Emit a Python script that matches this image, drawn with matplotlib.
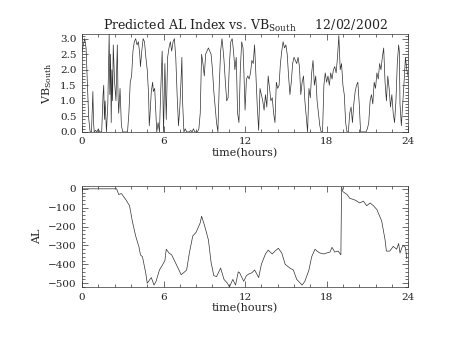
import numpy as np
import matplotlib
matplotlib.use("Agg")
import matplotlib.pyplot as plt
from matplotlib.ticker import MultipleLocator, AutoMinorLocator

plt.rcParams['font.family'] = ['DejaVu Serif']
plt.rcParams['mathtext.fontset'] = 'dejavuserif'
plt.rcParams['text.color'] = '#222222'
plt.rcParams['axes.labelcolor'] = '#222222'
plt.rcParams['xtick.labelcolor'] = '#222222'
plt.rcParams['ytick.labelcolor'] = '#222222'

# solar wind southward field (VB south), hours vs value
vb_hours = [
    0.0, 0.1, 0.2, 0.3, 0.4, 0.5, 0.6, 0.7, 0.8, 0.85, 0.9, 1.0,
    1.1, 1.2, 1.3, 1.45, 1.55, 1.6, 1.65, 1.7, 1.8, 1.9, 2.0, 2.05,
    2.1, 2.15, 2.2, 2.25, 2.3, 2.4, 2.5, 2.55, 2.6, 2.65, 2.7, 2.8, 2.9, 3.0,
    3.1, 3.2, 3.35, 3.45, 3.55, 3.65, 3.75, 3.85, 3.95, 4.05, 4.15,
    4.25, 4.3, 4.4, 4.5, 4.6, 4.7, 4.8, 4.9, 4.95, 5.0,
    5.1, 5.2, 5.25, 5.35, 5.45, 5.5, 5.6, 5.7, 5.8, 5.9, 6.0,
    6.1, 6.2, 6.3, 6.4, 6.5, 6.6, 6.7, 6.8, 6.9, 7.0,
    7.1, 7.2, 7.3, 7.35, 7.4, 7.5, 7.6, 7.7, 7.9, 8.0,
    8.1, 8.2, 8.3, 8.5, 8.6, 8.7, 8.8, 8.9, 9.0,
    9.1, 9.2, 9.3, 9.4, 9.5, 9.6, 9.7, 9.8, 9.9, 10.0,
    10.1, 10.2, 10.3, 10.35, 10.45, 10.55, 10.65, 10.75, 10.85, 10.95, 11.05,
    11.15, 11.25, 11.35, 11.45, 11.55, 11.65, 11.75, 11.85, 11.9, 12.0,
    12.1, 12.2, 12.3, 12.4, 12.5, 12.6, 12.7, 12.8, 12.9, 13.0,
    13.1, 13.2, 13.3, 13.4, 13.5, 13.6, 13.7, 13.8, 13.9, 14.0,
    14.1, 14.2, 14.3, 14.4, 14.5, 14.6, 14.7, 14.8, 14.9, 15.0, 15.1,
    15.2, 15.3, 15.4, 15.5, 15.6, 15.7, 15.8, 15.9, 16.0,
    16.1, 16.2, 16.3, 16.4, 16.5, 16.6, 16.7, 16.8, 16.9, 17.0, 17.1,
    17.2, 17.3, 17.4, 17.5, 17.6, 17.7, 17.8, 17.9, 18.0,
    18.1, 18.2, 18.3, 18.4, 18.5, 18.6, 18.7, 18.8, 18.9, 19.0,
    19.1, 19.2, 19.3, 19.4, 19.5, 19.6, 19.7, 19.8, 19.9, 20.0,
    20.1, 20.2, 20.3, 20.4, 20.5, 20.6, 20.7, 20.9, 21.0,
    21.1, 21.2, 21.3, 21.4, 21.5, 21.6, 21.7, 21.8, 21.9, 22.0,
    22.1, 22.2, 22.3, 22.4, 22.5, 22.6, 22.7, 22.8, 22.9, 23.0,
    23.1, 23.2, 23.3, 23.35, 23.4, 23.5, 23.6, 23.7, 23.8, 23.9, 24.0,
]
vb_south = [
    2.6, 2.8, 3.0, 2.7, 1.5, 0.4, 0.0, 0.0, 1.3, 0.3, 0.0, 0.05,
    0.0, 0.1, 0.0, 0.0, 1.2, 1.5, 0.4, 1.0, 0.0, 0.9, 3.15, 1.2,
    2.5, 0.3, 2.0, 1.0, 2.8, 1.6, 1.0, 2.0, 2.8, 1.2, 0.6, 1.4, 0.2, 0.0,
    0.0, 0.0, 0.0, 0.6, 1.6, 1.8, 2.6, 2.9, 3.0, 2.8, 2.9,
    2.5, 2.1, 2.6, 3.0, 2.9, 2.4, 2.0, 1.2, 0.2, 0.5,
    1.3, 1.6, 1.3, 1.4, 0.5, 0.0, 0.3, 0.0, 1.4, 2.6, 0.0,
    2.2, 0.4, 2.4, 2.7, 2.9, 2.6, 2.9, 3.0, 2.4, 1.2,
    0.2, 0.8, 1.8, 2.4, 1.0, 0.0, 0.1, 0.0, 0.0, 0.05,
    0.0, 0.1, 0.0, 0.0, 0.1, 0.6, 2.5, 2.2, 1.8,
    2.5, 2.6, 2.7, 2.6, 2.5, 2.0, 1.3, 0.8, 0.3, 0.0,
    1.5, 2.6, 3.0, 2.8, 2.3, 1.6, 1.0, 1.1, 2.2, 2.9, 3.0,
    2.6, 2.0, 2.4, 0.6, 0.3, 2.0, 2.9, 2.7, 2.1, 0.7,
    1.7, 1.8, 1.7, 1.9, 2.3, 2.2, 2.8, 1.8, 0.8, 0.05,
    1.4, 1.2, 1.0, 0.7, 1.2, 0.8, 1.8, 1.4, 1.0, 1.1,
    0.6, 0.3, 1.6, 1.4, 1.5, 2.2, 2.6, 2.9, 2.7, 2.8, 2.5,
    1.8, 1.2, 1.6, 2.2, 2.4, 2.3, 2.2, 2.4, 2.1,
    1.2, 1.6, 1.8, 1.0, 0.5, 0.0, 1.4, 1.1, 1.9, 2.3, 1.5,
    1.8, 1.0, 0.6, 0.2, 0.0, 0.0, 1.5, 1.9, 1.6,
    1.8, 1.5, 1.9, 1.7, 2.0, 2.1, 1.9, 2.4, 3.1, 2.0,
    2.2, 1.5, 1.2, 0.3, 0.0, 0.0, 0.6, 0.8, 0.3, 0.9,
    1.3, 1.5, 1.6, 0.9, 0.0, 0.0, 0.0, 0.0, 0.1,
    0.3, 1.0, 1.2, 0.9, 1.6, 1.4, 1.9, 1.7, 2.2, 2.0,
    2.4, 2.7, 1.6, 1.0, 1.8, 1.4, 0.8, 1.2, 0.6, 0.3,
    1.0, 2.2, 2.8, 2.6, 0.9, 0.2, 0.9, 1.6, 2.4, 2.0, 1.8,
]

# predicted AL index
al_hours = [
    0.0, 2.55, 2.7, 2.9, 3.0, 3.25, 3.5, 3.7, 3.95, 4.2, 4.3, 4.45, 4.7, 4.8,
    5.1, 5.3, 5.45, 5.7, 5.95, 6.1, 6.2, 6.4, 6.6, 6.8, 7.0, 7.3, 7.55, 7.7,
    7.9, 8.15, 8.4, 8.7, 8.8, 9.0, 9.3, 9.5, 9.7, 9.9, 10.2, 10.45, 10.7,
    10.85, 11.1, 11.3, 11.5, 11.6, 11.9, 12.1, 12.3, 12.5, 12.7, 13.0, 13.2,
    13.5, 13.7, 14.0, 14.2, 14.45, 14.7, 14.95, 15.3, 15.55, 15.8, 16.2,
    16.4, 16.7, 16.9, 17.15, 17.3, 17.5, 17.8, 18.0, 18.25, 18.4, 18.6,
    18.85, 19.05, 19.1, 19.2, 19.5, 19.7, 20.1, 20.45, 20.7, 20.95, 21.2,
    21.45, 21.7, 22.05, 22.3, 22.4, 22.65, 22.9, 23.15, 23.3, 23.4, 23.6,
    23.8, 23.9,
]
al_index = [
    0, 0, -30, -25, -35, -60, -90, -170, -250, -310, -350, -360, -450, -500,
    -470, -510, -490, -430, -400, -380, -320, -340, -350, -380, -410, -455,
    -440, -430, -340, -250, -230, -180, -145, -190, -270, -390, -460, -465,
    -420, -480, -500, -520, -480, -510, -440, -445, -490, -460, -450, -445,
    -430, -470, -400, -345, -325, -345, -330, -315, -340, -400, -420, -430,
    -480, -510, -490, -430, -360, -320, -330, -340, -345, -340, -335, -310,
    -335, -330, -350, 10, -15, -30, -50, -60, -75, -65, -90, -75, -90, -110,
    -170, -270, -330, -330, -305, -320, -290, -340, -300, -310, -370,
]


def idl_axes(ax):
    ax.tick_params(which='both', direction='in', top=True, right=True,
                   labelsize=7.5, pad=4, width=0.5, color='#333333')
    ax.tick_params(which='major', length=4.5)
    ax.tick_params(which='minor', length=2.2)
    for s in ax.spines.values():
        s.set_linewidth(0.5)
        s.set_color('#333333')
    ax.set_xlim(0, 24)
    ax.xaxis.set_major_locator(MultipleLocator(6))
    ax.xaxis.set_minor_locator(AutoMinorLocator(5))
    ax.set_xlabel('time(hours)', fontsize=8, labelpad=1)


fig = plt.figure(figsize=(4.53, 3.40), dpi=100)

ax1 = fig.add_axes([0.181, 0.612, 0.720, 0.288])
ax1.plot(vb_hours, vb_south, color='#303030', lw=0.5)
idl_axes(ax1)
ax1.set_ylim(0, 3.15)
ax1.yaxis.set_major_locator(MultipleLocator(0.5))
ax1.yaxis.set_minor_locator(AutoMinorLocator(5))
ax1.yaxis.set_major_formatter(plt.FormatStrFormatter('%.1f'))
ax1.set_ylabel(r'VB$_{\mathrm{South}}$', fontsize=8, labelpad=4)
ax1.set_title(r'Predicted AL Index vs. VB$_{\mathrm{South}}$     12/02/2002',
              fontsize=9, pad=3)

ax2 = fig.add_axes([0.181, 0.156, 0.720, 0.297])
ax2.plot(al_hours, al_index, color='#303030', lw=0.5)
idl_axes(ax2)
ax2.set_ylim(-520, 15)
ax2.yaxis.set_major_locator(MultipleLocator(100))
ax2.yaxis.set_minor_locator(AutoMinorLocator(5))
ax2.set_ylabel('AL', fontsize=8, labelpad=4)

fig.savefig('out.png', dpi=100)
